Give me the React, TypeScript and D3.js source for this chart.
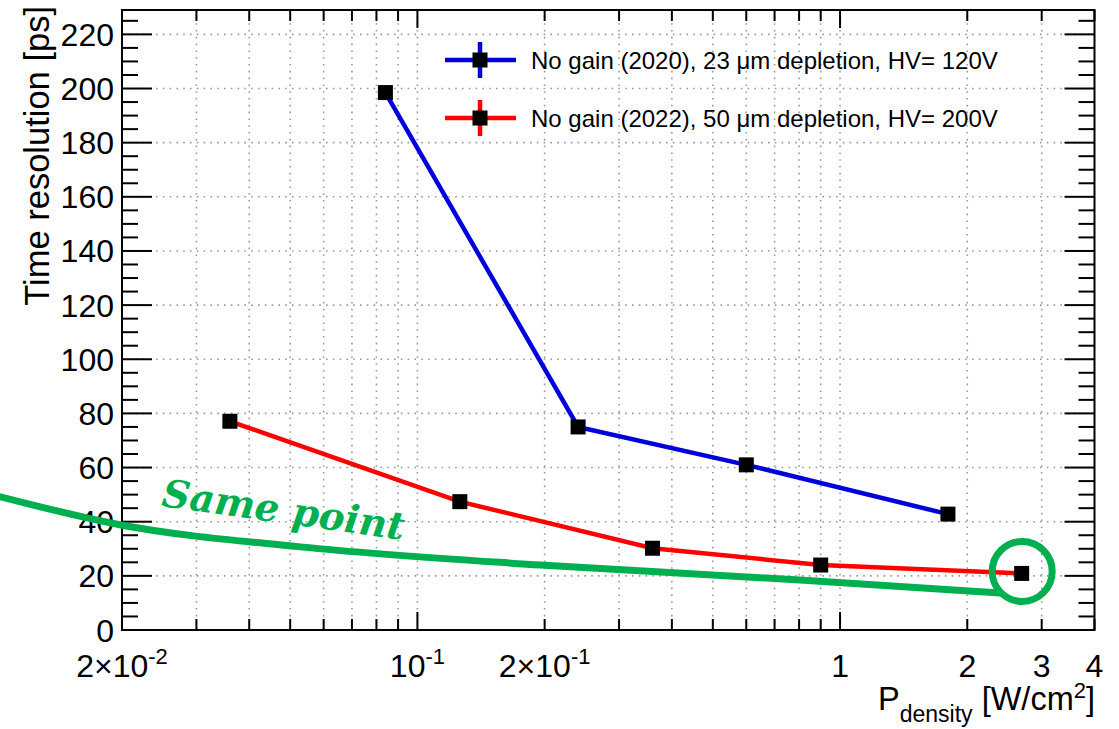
import { useEffect, useRef } from "react";
import * as d3 from "d3";

// Series (x in W/cm^2, y in ps)
const blueX = [0.084, 0.24, 0.6, 1.8];
const blueY = [198.5, 75.0, 61.0, 42.8];
const redX = [0.036, 0.126, 0.36, 0.9, 2.69];
const redY = [77.1, 47.4, 30.2, 24.0, 20.9];

const blueLabel = "No gain (2020), 23 \u03BCm depletion, HV= 120V";
const redLabel = "No gain (2022), 50 \u03BCm depletion, HV= 200V";

// Axis labels
const xLabelValues = [0.02, 0.1, 0.2, 1, 2, 3, 4];
const xLabelTexts = ["2\u00D710^-2", "10^-1", "2\u00D710^-1", "1", "2", "3", "4"];
const yMajorTicks = [0, 20, 40, 60, 80, 100, 120, 140, 160, 180, 200, 220];

// Green hand-drawn callout (in data coordinates)
const calloutX = [0.0103, 0.0199, 0.0529, 0.1954, 0.804, 2.39];
const calloutY = [49.2, 38.8, 30.7, 24.0, 18.5, 13.7];
const calloutText = "Same point";

const W = 1119;
const H = 729;
const FONT = "'Liberation Sans', Arial, Helvetica, sans-serif";

export default function App() {
  const svgRef = useRef<SVGSVGElement>(null);

  useEffect(() => {
    if (!svgRef.current) return;
    const svg = d3.select(svgRef.current);
    svg.selectAll("*").remove();

    const left = 122;
    const right = 1094.5;
    const top = 10;
    const bottom = 630;

    const x = d3.scaleLog().domain([0.02, 4]).range([left, right]);
    const y = d3.scaleLinear().domain([0, 229]).range([bottom, top]);

    svg.append("rect").attr("width", W).attr("height", H).attr("fill", "#fff");

    // Grid
    const grid = svg.append("g").attr("stroke", "#9a9a9a").attr("stroke-width", 1.6)
      .attr("stroke-dasharray", "1.6,5.2");
    const xTicks = x.ticks();
    xTicks.filter((t) => t > 0.0201 && t < 3.99).forEach((t) => {
      grid.append("line").attr("x1", x(t)).attr("x2", x(t)).attr("y1", bottom).attr("y2", top);
    });
    yMajorTicks.filter((t) => t > 0).forEach((t) => {
      grid.append("line").attr("x1", left).attr("x2", right).attr("y1", y(t)).attr("y2", y(t));
    });

    // Frame
    svg.append("rect")
      .attr("x", left).attr("y", top)
      .attr("width", right - left).attr("height", bottom - top)
      .attr("fill", "none").attr("stroke", "#000").attr("stroke-width", 2);

    // Ticks
    const ticks = svg.append("g").attr("stroke", "#000").attr("stroke-width", 2);
    xTicks.forEach((t) => {
      const major = Math.abs(Math.log10(t) - Math.round(Math.log10(t))) < 1e-6;
      const len = major ? 18 : 11;
      ticks.append("line").attr("x1", x(t)).attr("x2", x(t)).attr("y1", bottom).attr("y2", bottom - len);
      ticks.append("line").attr("x1", x(t)).attr("x2", x(t)).attr("y1", top).attr("y2", top + len);
    });
    d3.range(0, 230, 5).forEach((t) => {
      const len = t % 20 === 0 ? 30 : 16;
      ticks.append("line").attr("x1", left).attr("x2", left + len).attr("y1", y(t)).attr("y2", y(t));
      ticks.append("line").attr("x1", right).attr("x2", right - len).attr("y1", y(t)).attr("y2", y(t));
    });

    // Y tick labels
    svg.append("g").selectAll("text").data(yMajorTicks).enter().append("text")
      .attr("x", 114).attr("y", (d) => y(d)).attr("dy", "0.36em")
      .attr("text-anchor", "end").style("font-family", FONT).style("font-size", "32px")
      .text((d) => d);

    // X tick labels
    xLabelValues.forEach((v, i) => {
      const [base, sup] = xLabelTexts[i].split("^");
      const t = svg.append("text").attr("x", x(v)).attr("y", 677)
        .attr("text-anchor", "middle").style("font-family", FONT).style("font-size", "32px");
      t.append("tspan").text(base);
      if (sup) t.append("tspan").attr("dy", -13).style("font-size", "22px").text(sup);
    });

    // Axis titles
    svg.append("text")
      .attr("transform", "translate(49,6) rotate(-90)")
      .attr("text-anchor", "end").style("font-family", FONT).style("font-size", "34.5px")
      .text("Time resolution [ps]");

    const xt = svg.append("text").attr("x", 1095).attr("y", 710)
      .attr("text-anchor", "end").style("font-family", FONT).style("font-size", "32.5px");
    xt.append("tspan").text("P");
    xt.append("tspan").attr("dy", 12).style("font-size", "23px").text("density");
    xt.append("tspan").attr("dy", -12).text(" [W/cm");
    xt.append("tspan").attr("dy", -12).style("font-size", "22px").text("2");
    xt.append("tspan").attr("dy", 12).text("]");

    // Series
    const series = [
      { xs: blueX, ys: blueY, color: "#0000dd" },
      { xs: redX, ys: redY, color: "#ff0000" },
    ];
    series.forEach((s) => {
      const pts = s.xs.map((v, i) => [v, s.ys[i]] as [number, number]);
      const line = d3.line<[number, number]>().x((d) => x(d[0])).y((d) => y(d[1]));
      svg.append("path").datum(pts).attr("d", line)
        .attr("fill", "none").attr("stroke", s.color).attr("stroke-width", 4.5);
      svg.append("g").selectAll("rect").data(pts).enter().append("rect")
        .attr("x", (d) => x(d[0]) - 7.5).attr("y", (d) => y(d[1]) - 7.5)
        .attr("width", 15).attr("height", 15).attr("fill", "#000");
    });

    // Legend
    const legend = [
      { label: blueLabel, color: "#0000dd", cy: 60 },
      { label: redLabel, color: "#ff0000", cy: 118 },
    ];
    legend.forEach((l) => {
      const g = svg.append("g");
      g.append("line").attr("x1", 445).attr("x2", 516).attr("y1", l.cy).attr("y2", l.cy)
        .attr("stroke", l.color).attr("stroke-width", 4.5);
      g.append("line").attr("x1", 480).attr("x2", 480).attr("y1", l.cy - 18).attr("y2", l.cy + 18)
        .attr("stroke", l.color).attr("stroke-width", 4.5);
      g.append("rect").attr("x", 472.5).attr("y", l.cy - 7.5).attr("width", 15).attr("height", 15)
        .attr("fill", "#000");
      g.append("text").attr("x", 531).attr("y", l.cy).attr("dy", "0.36em")
        .style("font-family", FONT).style("font-size", "24px").text(l.label);
    });

    // Green callout
    const green = "#00b050";
    const cpts = calloutX.map((v, i) => [v, calloutY[i]] as [number, number]);
    svg.append("path").datum(cpts)
      .attr("d", d3.line<[number, number]>().x((d) => x(d[0])).y((d) => y(d[1])).curve(d3.curveMonotoneX))
      .attr("fill", "none").attr("stroke", green).attr("stroke-width", 7).attr("stroke-linecap", "round");
    const last = redX.length - 1;
    svg.append("circle").attr("cx", x(redX[last]) + 0.5).attr("cy", y(redY[last]) - 2).attr("r", 30)
      .attr("fill", "none").attr("stroke", green).attr("stroke-width", 7);
    svg.append("text")
      .attr("transform", `translate(${x(0.0247)},${y(45.8)}) rotate(8)`)
      .style("font-family", "'DejaVu Serif', serif").style("font-weight", "bold")
      .style("font-style", "italic").style("font-size", "38.5px").attr("fill", green)
      .text(calloutText);
  }, []);

  return (
    <div style={{ position: "absolute", left: 0, top: 0 }}>
      <svg ref={svgRef} width={W} height={H} style={{ display: "block" }} />
    </div>
  );
}
